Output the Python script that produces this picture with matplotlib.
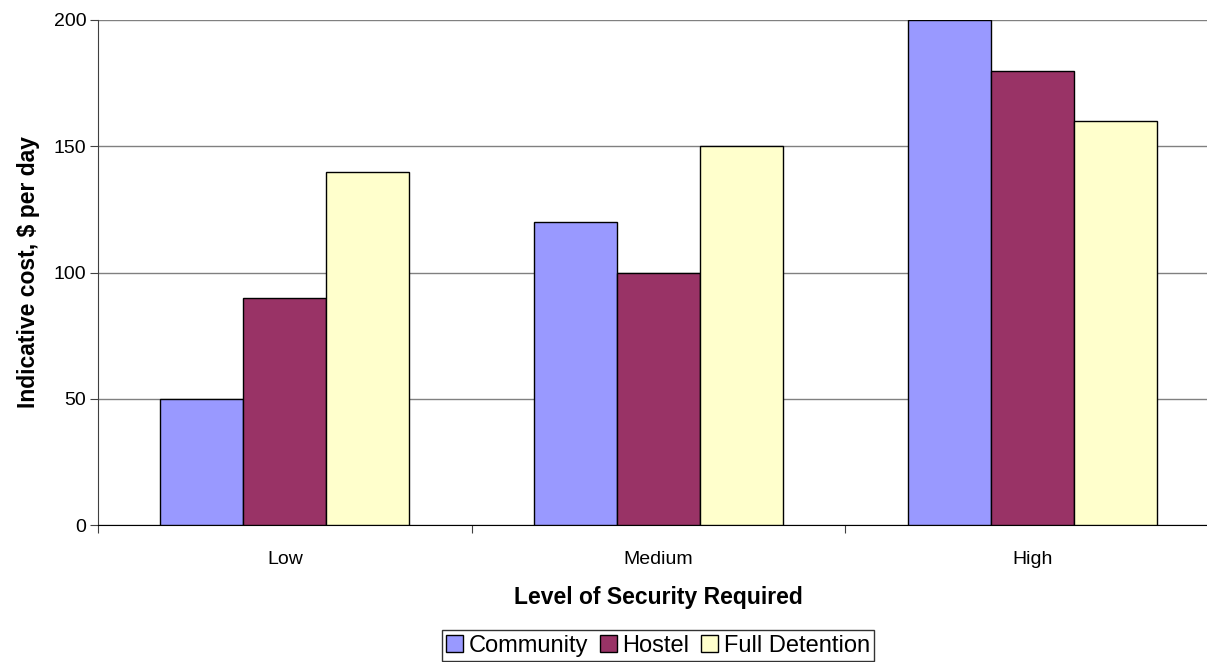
import matplotlib
matplotlib.use("Agg")
import matplotlib.pyplot as plt
import numpy as np

plt.rcParams['font.family'] = ['Liberation Sans', 'DejaVu Sans']

levels = ['Low', 'Medium', 'High']
community = [50, 120, 200]
hostel = [90, 100, 180]
full_detention = [140, 150, 160]

series = [
    ('Community', community, '#9999FF'),
    ('Hostel', hostel, '#993366'),
    ('Full Detention', full_detention, '#FFFFCC'),
]

fig = plt.figure(figsize=(12.07, 6.62), dpi=100)
# axes runs a bit past the right edge of the figure
ax = fig.add_axes([98 / 1207, 1 - 525 / 662, (1219 - 98) / 1207, (525 - 20) / 662])

x = np.arange(len(levels))
w = 0.222
for i, (name, vals, col) in enumerate(series):
    ax.bar(x + (i - 1) * w, vals, width=w, color=col, edgecolor='black',
           linewidth=1, label=name, zorder=3)

ax.set_xlim(-0.5, 2.5)
ax.set_ylim(0, 200)
ax.set_yticks([0, 50, 100, 150, 200])
ax.yaxis.grid(True, color='#808080', linewidth=1, zorder=0)
ax.set_axisbelow(True)

ax.set_xticks([-0.5, 0.5, 1.5, 2.5])
ax.set_xticklabels([])
ax.set_xticks(x, minor=True)
ax.set_xticklabels(levels, minor=True)
ax.tick_params(axis='x', which='major', length=6, direction='out', color='#404040')
ax.tick_params(axis='x', which='minor', length=0, pad=18.5, labelsize=14)
ax.tick_params(axis='y', length=6, direction='out', labelsize=14, color='#404040', pad=2.5)

for s in ['top', 'right']:
    ax.spines[s].set_visible(False)
ax.spines['left'].set_color('#404040')
ax.spines['bottom'].set_color('black')

ax.set_xlabel('Level of Security Required', fontsize=16.5, fontweight='bold', labelpad=13)
ax.set_ylabel('Indicative cost, $ per day', fontsize=16.5, fontweight='bold', labelpad=10)

leg = fig.legend(loc='upper center', bbox_to_anchor=(658 / 1207, 1 - 630 / 662), ncol=3,
                 fontsize=17, frameon=True, fancybox=False, edgecolor='black',
                 handlelength=0.7, handleheight=0.7, handletextpad=0.25,
                 columnspacing=0.5, borderpad=0.2, borderaxespad=0)
leg.get_frame().set_linewidth(1)

fig.savefig('out.png', dpi=100)
